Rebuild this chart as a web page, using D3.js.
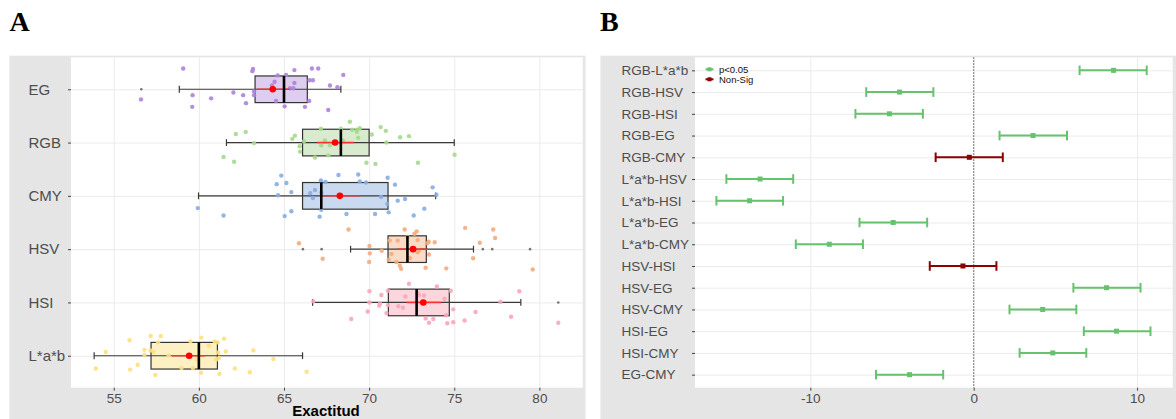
<!DOCTYPE html>
<html>
<head>
<meta charset="utf-8">
<script src="https://cdn.jsdelivr.net/npm/d3@7"></script>
<style>
  body { margin: 0; background: #fff; }
  svg { display: block; font-family: "Liberation Sans", Arial, sans-serif; }
</style>
</head>
<body>
<div id="chart"></div>
<script>
// ---------------------------------------------------------
// (1) Data
// ---------------------------------------------------------

// panel A : boxplots of accuracy per colour space
var groups   = ["EG", "RGB", "CMY", "HSV", "HSI", "L*a*b"]
var q1       = [63.30, 66.09, 66.09, 71.11, 71.13, 57.19]
var medians  = [65.00, 68.34, 67.19, 72.25, 72.79, 60.00]
var q3       = [66.37, 70.00, 71.11, 73.36, 74.71, 61.09]
var whiskLo  = [58.85, 61.62, 59.98, 68.91, 66.68, 53.85]
var whiskHi  = [68.34, 75.00, 73.91, 76.13, 78.91, 66.09]
var means    = [64.34, 68.00, 68.28, 72.58, 73.18, 59.43]
var ciLo     = [63.40, 66.95, 67.20, 71.64, 72.19, 58.42]
var ciHi     = [65.35, 69.10, 69.45, 73.46, 74.24, 60.37]
var outliers = [["EG", 56.62], ["HSV", 66.11], ["HSV", 67.21], ["HSV", 76.68],
                ["HSV", 77.23], ["HSV", 79.45], ["HSI", 81.11]]

// jittered observations: [accuracy, vertical jitter in category units]
var ptsEG = [[59.08,-0.39],[63.18,-0.38],[63.14,-0.34],[66.64,-0.39],[67.01,-0.39],[65.61,-0.36],
  [68.48,-0.27],[64.63,-0.26],[65.12,-0.27],[64.45,-0.14],[64.30,-0.07],[65.61,-0.12],[66.50,-0.17],
  [66.70,-0.17],[67.70,-0.07],[68.14,-0.04],[65.35,-0.02],[65.55,-0.02],[63.24,0.04],[62.03,0.06],
  [62.60,0.11],[59.63,0.11],[63.24,0.11],[60.72,0.17],[56.60,0.19],[62.77,0.26],[64.53,0.22],
  [66.48,0.22],[65.04,0.32],[66.23,0.33],[59.61,0.33],[67.60,0.39]]
var ptsRGB = [[68.87,-0.39],[67.17,-0.26],[68.34,-0.26],[69.00,-0.24],[69.26,-0.24],[69.45,-0.27],
  [69.28,-0.20],[70.68,-0.29],[70.98,-0.22],[62.17,-0.16],[62.75,-0.20],[65.64,-0.13],[65.49,-0.07],
  [70.16,-0.15],[71.82,-0.10],[72.34,-0.12],[69.36,-0.09],[67.40,-0.04],[68.46,-0.04],[66.17,-0.02],
  [63.24,0.01],[67.19,0.05],[67.70,0.05],[71.02,0.00],[65.92,0.07],[65.94,0.17],[67.60,0.24],
  [66.82,0.28],[61.45,0.27],[62.07,0.36],[69.84,0.38],[70.37,0.40],[72.87,0.38],[75.02,0.23]]
var ptsCMY = [[64.84,-0.38],[65.14,-0.24],[64.57,-0.22],[67.17,-0.29],[67.44,-0.26],[68.20,-0.39],
  [69.36,-0.40],[69.45,-0.27],[69.82,-0.25],[71.09,-0.34],[71.52,-0.21],[73.73,-0.16],[66.82,-0.11],
  [65.43,-0.07],[66.54,-0.05],[67.19,-0.06],[64.65,-0.01],[66.70,0.04],[70.70,0.02],[72.11,0.06],
  [71.68,0.09],[73.95,-0.02],[71.07,0.15],[67.19,0.26],[65.43,0.29],[73.24,0.24],[59.94,0.23],
  [61.45,0.37],[65.04,0.38],[67.09,0.39],[68.67,0.34],[70.35,0.34],[71.15,0.31],[72.62,0.37]]
var ptsHSV = [[68.79,-0.37],[72.09,-0.37],[72.79,-0.33],[72.66,-0.29],[75.64,-0.40],[77.29,-0.37],
  [77.40,-0.21],[76.50,-0.12],[73.85,-0.13],[73.42,-0.11],[73.50,-0.14],[72.85,-0.17],[71.21,-0.16],
  [71.68,-0.16],[72.25,-0.23],[65.88,-0.11],[70.02,-0.06],[70.74,0.03],[71.31,0.09],[70.04,0.08],
  [72.85,0.06],[72.91,0.03],[73.52,0.10],[72.40,0.17],[71.15,0.20],[71.60,0.24],[70.00,0.24],
  [67.27,0.18],[76.11,0.17],[71.80,0.31],[71.88,0.37],[73.32,0.35],[74.53,0.36],[79.61,0.38]]
var ptsHSI = [[72.34,-0.35],[73.98,-0.30],[70.02,-0.21],[71.11,-0.22],[70.72,-0.14],[72.83,-0.18],
  [72.93,-0.14],[73.22,-0.13],[72.13,-0.11],[74.80,-0.22],[78.82,-0.21],[74.43,-0.07],[70.02,0.00],
  [70.64,0.02],[66.72,-0.02],[77.71,-0.01],[70.59,0.06],[71.11,0.05],[71.72,0.07],[71.99,0.10],
  [69.92,0.17],[71.02,0.20],[74.94,0.13],[76.25,0.18],[74.53,0.24],[68.95,0.31],[73.32,0.30],
  [73.77,0.31],[73.52,0.38],[74.59,0.39],[74.94,0.37],[75.61,0.34],[78.34,0.27],[81.11,0.38]]
var ptsLab = [[57.17,-0.37],[57.77,-0.37],[55.93,-0.29],[57.60,-0.25],[59.51,-0.27],[60.14,-0.34],
  [60.92,-0.27],[61.11,-0.25],[61.48,-0.32],[60.59,-0.19],[56.80,-0.11],[57.15,-0.10],[57.34,-0.07],
  [54.53,-0.07],[56.80,-0.02],[58.22,-0.01],[61.13,-0.06],[61.58,-0.08],[63.20,-0.10],[59.88,0.07],
  [61.02,0.07],[61.19,0.04],[64.38,0.06],[56.41,0.17],[53.95,0.24],[55.96,0.26],[58.98,0.23],
  [59.65,0.23],[62.11,0.24],[62.99,0.31],[57.44,0.36],[60.12,0.32],[61.21,0.34],[66.33,0.30]]
var points = [ptsEG, ptsRGB, ptsCMY, ptsHSV, ptsHSI, ptsLab]

var ticksA = [55, 60, 65, 70, 75, 80]

// panel B : Tukey pairwise differences
var comparisons = ["RGB-L*a*b", "RGB-HSV", "RGB-HSI", "RGB-EG", "RGB-CMY", "L*a*b-HSV",
  "L*a*b-HSI", "L*a*b-EG", "L*a*b-CMY", "HSV-HSI", "HSV-EG", "HSV-CMY", "HSI-EG", "HSI-CMY", "EG-CMY"]
var diffs = [8.56, -4.54, -5.16, 3.63, -0.27, -13.08, -13.72, -4.93, -8.84, -0.66, 8.13, 4.22, 8.74, 4.84, -3.93]
var lwr   = [6.48, -6.58, -7.24, 1.58, -2.33, -15.14, -15.75, -6.99, -10.89, -2.69, 6.10, 2.19, 6.74, 2.81, -5.98]
var upr   = [10.59, -2.47, -3.11, 5.71, 1.78, -11.05, -11.67, -2.85, -6.78, 1.39, 10.21, 6.28, 10.82, 6.89, -1.87]
var signif = ["p<0.05", "p<0.05", "p<0.05", "p<0.05", "Non-Sig", "p<0.05", "p<0.05", "p<0.05",
  "p<0.05", "Non-Sig", "p<0.05", "p<0.05", "p<0.05", "p<0.05", "p<0.05"]

var ticksB = [-10, 0, 10]

// ---------------------------------------------------------
// (2) Styles
// ---------------------------------------------------------

var pointColor = ["#ad83da", "#a4d98c", "#87ade2", "#f5ab7d", "#f8a6b8", "#fde07c"]
var boxFill    = ["#ddcdef", "#d9ebcf", "#c9d9ef", "#f9dcc8", "#fcd5dd", "#fdf1c3"]
var sigColor   = { "p<0.05": "#66c26e", "Non-Sig": "#8b0000" }

var svg = d3.select("#chart").append("svg")
    .attr("width", 1176)
    .attr("height", 419)

var plotTop = 57.3, plotBottom = 387.7

// ---------------------------------------------------------
// (3) Panel A
// ---------------------------------------------------------

svg.append("rect").attr("x", 9.3).attr("y", 55.7).attr("width", 576.2).attr("height", 364).attr("fill", "#e5e5e5")
svg.append("text").attr("x", 9.5).attr("y", 31).text("A")
    .style("font-family", "'Liberation Serif', 'Times New Roman', serif")
    .style("font-weight", "bold").style("font-size", "28px")

var xA = d3.scaleLinear().domain([52.49, 82.55]).range([71, 582.8])
var yA = d3.scalePoint().domain(groups).range([plotTop, plotBottom]).padding(0.6)

var gA = svg.append("g")
gA.append("rect").attr("x", 71).attr("y", plotTop)
    .attr("width", 582.8 - 71).attr("height", plotBottom - plotTop).attr("fill", "#fff")

// grid
gA.append("g")
    .attr("transform", `translate(0, ${plotBottom})`)
    .call(d3.axisBottom(xA).tickValues(ticksA).tickSize(-(plotBottom - plotTop)).tickFormat(""))
    .call(g => g.select(".domain").remove())
    .call(g => g.selectAll("line").attr("stroke", "#ebebeb"))
gA.append("g")
    .attr("transform", "translate(582.8, 0)")
    .call(d3.axisLeft(yA).tickSize(582.8 - 71).tickFormat(""))
    .call(g => g.select(".domain").remove())
    .call(g => g.selectAll("line").attr("stroke", "#ebebeb"))

// axes
gA.append("g")
    .attr("transform", `translate(0, ${plotBottom})`)
    .call(d3.axisBottom(xA).tickValues(ticksA).tickSize(3).tickPadding(3))
    .call(g => g.select(".domain").remove())
    .call(g => g.selectAll("line").attr("stroke", "#444"))
    .call(g => g.selectAll("text").attr("fill", "#4d4d4d").style("font-size", "13.5px")
        .style("font-family", "'Liberation Sans', Arial, sans-serif"))
gA.append("g")
    .attr("transform", "translate(71, 0)")
    .call(d3.axisLeft(yA).tickSize(3).tickPadding(0))
    .call(g => g.select(".domain").remove())
    .call(g => g.selectAll("line").attr("stroke", "#444"))
    .call(g => g.selectAll("text").attr("fill", "#4d4d4d").style("font-size", "15px")
        .style("font-family", "'Liberation Sans', Arial, sans-serif")
        .attr("text-anchor", "start").attr("x", 28.5 - 71))

gA.append("text").attr("x", 326).attr("y", 415.5).attr("text-anchor", "middle")
    .style("font-weight", "bold").style("font-size", "15px").text("Exactitud")

var step = yA.step()
var half = step * 0.25

groups.forEach(function (g, i) {
    var cy = yA(g)
    var row = gA.append("g")

    // box
    row.append("rect")
        .attr("x", xA(q1[i])).attr("y", cy - half)
        .attr("width", xA(q3[i]) - xA(q1[i])).attr("height", half * 2)
        .attr("fill", boxFill[i]).attr("stroke", "#333").attr("stroke-width", 1.2)

    // whisker with caps
    row.append("line")
        .attr("x1", xA(whiskLo[i])).attr("x2", xA(whiskHi[i])).attr("y1", cy).attr("y2", cy)
        .attr("stroke", "#3a3a3a").attr("stroke-width", 1.2)
    ;[whiskLo[i], whiskHi[i]].forEach(function (v) {
        row.append("line").attr("x1", xA(v)).attr("x2", xA(v)).attr("y1", cy - 3.4).attr("y2", cy + 3.4)
            .attr("stroke", "#3a3a3a").attr("stroke-width", 1.2)
    })

    // jittered points
    row.selectAll("circle.pt")
        .data(points[i])
        .join("circle")
            .attr("class", "pt")
            .attr("cx", d => xA(d[0]))
            .attr("cy", d => cy + d[1] * step)
            .attr("r", 2.2)
            .attr("fill", pointColor[i])
            .attr("opacity", 0.9)

    // mean interval
    row.append("line")
        .attr("x1", xA(ciLo[i])).attr("x2", xA(ciHi[i])).attr("y1", cy).attr("y2", cy)
        .attr("stroke", "#ff3030").attr("stroke-width", 1.5)

    // median
    row.append("line")
        .attr("x1", xA(medians[i])).attr("x2", xA(medians[i])).attr("y1", cy - half).attr("y2", cy + half)
        .attr("stroke", "#000").attr("stroke-width", 2.6)

    // mean
    row.append("circle").attr("cx", xA(means[i])).attr("cy", cy).attr("r", 3.3).attr("fill", "#ff0000")
})

gA.selectAll("circle.out")
    .data(outliers)
    .join("circle")
        .attr("class", "out")
        .attr("cx", d => xA(d[1]))
        .attr("cy", d => yA(d[0]))
        .attr("r", 1.3)
        .attr("fill", "#777")

// ---------------------------------------------------------
// (4) Panel B
// ---------------------------------------------------------

svg.append("rect").attr("x", 600.4).attr("y", 55.7).attr("width", 575.6).attr("height", 364).attr("fill", "#e5e5e5")
svg.append("text").attr("x", 600).attr("y", 31).text("B")
    .style("font-family", "'Liberation Serif', 'Times New Roman', serif")
    .style("font-weight", "bold").style("font-size", "28px")

var xB = d3.scaleLinear().domain([-17.06, 12.18]).range([695, 1172.7])
var yB = d3.scalePoint().domain(comparisons).range([plotTop, plotBottom]).padding(0.6)

var gB = svg.append("g")
gB.append("rect").attr("x", 695).attr("y", plotTop)
    .attr("width", 1172.7 - 695).attr("height", plotBottom - plotTop).attr("fill", "#fff")

gB.append("g")
    .attr("transform", `translate(0, ${plotBottom})`)
    .call(d3.axisBottom(xB).tickValues(ticksB).tickSize(-(plotBottom - plotTop)).tickFormat(""))
    .call(g => g.select(".domain").remove())
    .call(g => g.selectAll("line").attr("stroke", "#ebebeb"))
gB.append("g")
    .attr("transform", "translate(1172.7, 0)")
    .call(d3.axisLeft(yB).tickSize(1172.7 - 695).tickFormat(""))
    .call(g => g.select(".domain").remove())
    .call(g => g.selectAll("line").attr("stroke", "#ebebeb"))

gB.append("g")
    .attr("transform", `translate(0, ${plotBottom})`)
    .call(d3.axisBottom(xB).tickValues(ticksB).tickSize(3).tickPadding(3).tickFormat(d => String(d)))
    .call(g => g.select(".domain").remove())
    .call(g => g.selectAll("line").attr("stroke", "#444"))
    .call(g => g.selectAll("text").attr("fill", "#4d4d4d").style("font-size", "13.5px")
        .style("font-family", "'Liberation Sans', Arial, sans-serif"))
gB.append("g")
    .attr("transform", "translate(695, 0)")
    .call(d3.axisLeft(yB).tickSize(3).tickPadding(0))
    .call(g => g.select(".domain").remove())
    .call(g => g.selectAll("line").attr("stroke", "#444"))
    .call(g => g.selectAll("text").attr("fill", "#4d4d4d").style("font-size", "13.5px")
        .style("font-family", "'Liberation Sans', Arial, sans-serif")
        .attr("text-anchor", "start").attr("x", 621.5 - 695))

// zero reference
gB.append("line")
    .attr("x1", xB(0)).attr("x2", xB(0)).attr("y1", plotTop).attr("y2", plotBottom)
    .attr("stroke", "#555").attr("stroke-width", 1).attr("stroke-dasharray", "1.5,1.5")

// error bars
comparisons.forEach(function (c, i) {
    var cy = yB(c)
    var col = sigColor[signif[i]]
    var row = gB.append("g")
    row.append("line").attr("x1", xB(lwr[i])).attr("x2", xB(upr[i])).attr("y1", cy).attr("y2", cy)
        .attr("stroke", col).attr("stroke-width", 2)
    ;[lwr[i], upr[i]].forEach(function (v) {
        row.append("line").attr("x1", xB(v)).attr("x2", xB(v)).attr("y1", cy - 4.8).attr("y2", cy + 4.8)
            .attr("stroke", col).attr("stroke-width", 2)
    })
    row.append("rect").attr("x", xB(diffs[i]) - 2.5).attr("y", cy - 2.5)
        .attr("width", 5).attr("height", 5).attr("fill", col)
})

// legend
var legend = gB.append("g")
;["p<0.05", "Non-Sig"].forEach(function (k, i) {
    var ly = 69.3 + i * 10
    legend.append("line").attr("x1", 705.5).attr("x2", 713.5).attr("y1", ly).attr("y2", ly)
        .attr("stroke", sigColor[k]).attr("stroke-width", 2)
    legend.append("rect").attr("x", 707.5).attr("y", ly - 2).attr("width", 4).attr("height", 4)
        .attr("fill", sigColor[k])
    legend.append("text").attr("x", 719).attr("y", ly + 3.2).text(k)
        .style("font-size", "9.5px").attr("fill", "#111")
})
</script>
</body>
</html>
